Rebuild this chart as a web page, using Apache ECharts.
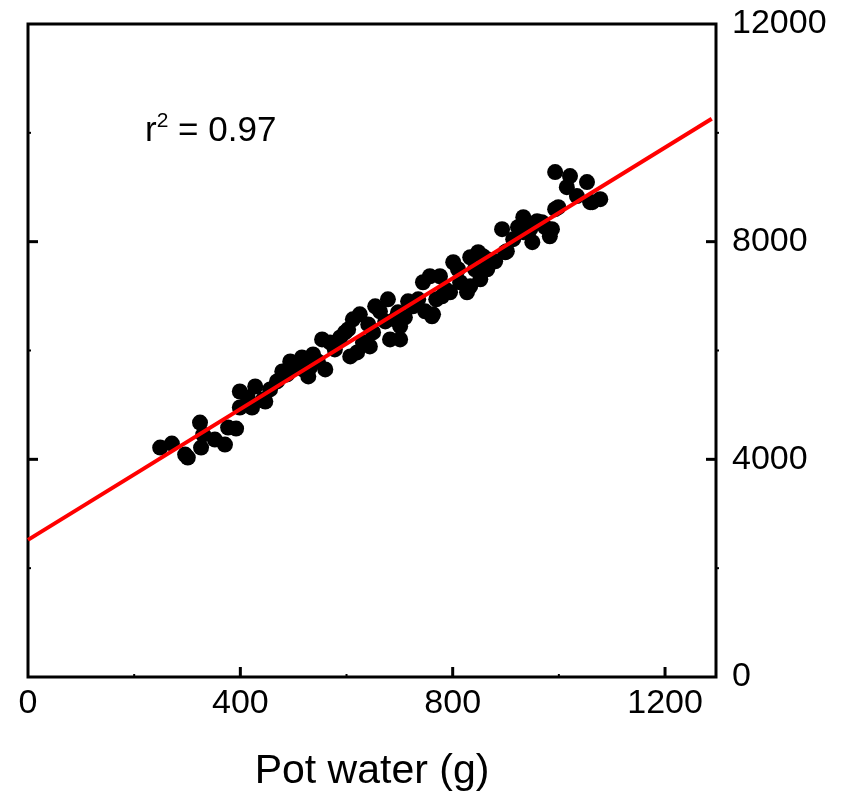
<!DOCTYPE html>
<html>
<head>
<meta charset="utf-8">
<script src="https://cdn.jsdelivr.net/npm/echarts@6/dist/echarts.min.js"></script>
<style>
  html, body { margin: 0; padding: 0; background: #fff; }
  #chart { width: 845px; height: 800px; }
</style>
</head>
<body>
<div id="chart"></div>
<script>
// Pot water (g) of each observation
const potWater = [
  249, 271, 296, 301, 324, 330, 326, 371, 377, 392, 399, 428, 399, 422, 447, 443,
  469, 494, 516, 537, 554, 560, 528, 488, 597, 607, 625, 631, 654, 612, 663, 678,
  697, 701, 725, 761, 744, 757, 776, 780, 801, 814, 827, 833, 848, 852, 865, 865,
  893, 899, 933, 933, 950, 959, 983, 999, 993, 1021, 1015, 1034, 1053, 1059, 1078, 1063,
  682, 650, 701, 620, 644, 795, 833, 902, 968, 857, 763, 725, 987, 993,
  503, 479, 546, 578, 588, 569, 456, 414, 641, 673, 710, 735, 748, 786, 810, 880,
  914, 946, 974, 531, 603, 691, 769, 842, 923, 352, 518, 716
];

// Plant weight of each observation (same order)
const plantWeight = [
  4216, 4290, 4087, 4032, 4676, 4455, 4216, 4271, 4584, 4566, 5247, 5339, 4952, 4952, 5063, 5100,
  5431, 5799, 5873, 5928, 6204, 5652, 5523, 5560, 6333, 5891, 6664, 6149, 6812, 6572, 6720, 6941,
  6701, 6444, 6849, 6628, 7254, 7364, 7364, 6996, 7622, 7254, 7070, 7714, 7806, 7309, 7677, 7493,
  8229, 7806, 8450, 8174, 7990, 8377, 8100, 8634, 9279, 9205, 9002, 8837, 9095, 8726, 8781, 8726,
  6204, 6333, 6204, 5965, 6075, 7070, 7180, 7824, 8358, 7732, 6665, 6812, 8229, 8597,
  5689, 5615, 5799, 6020, 6241, 6149, 5284, 5136, 6480, 6535, 6609, 6941, 6720, 7125, 7493, 7640,
  8045, 8229, 8266, 5689, 6388, 6572, 6941, 7493, 8266, 4363, 5652, 6904
];

// Regression line ends
const fitX = [0, 1288];
const fitY = [2520, 10260];

// tick values
const xTicks = [0, 400, 800, 1200];
const yTicks = [0, 4000, 8000, 12000];
const xMajor = [400, 800, 1200];
const xMinor = [200, 600, 1000];
const yMajor = [4000, 8000];
const yMinor = [2000, 6000, 10000];

const font = 'Liberation Sans, Arial, sans-serif';
const X_MAX = 1296;
const Y_MAX = 12000;

const scatterData = potWater.map((x, i) => [x, plantWeight[i]]);
const fitData = fitX.map((x, i) => [x, fitY[i]]);

const chart = echarts.init(document.getElementById('chart'));

/**
 * Custom series drawing tick marks (small filled rects) on one edge of the plot.
 *
 * @param {Array} values Tick values
 * @param {String} edge 'bottom', 'left' or 'right'
 * @param {Number} len Length in px, positive points into the plot
 * @param {Number} width Thickness in px
 */
const tickSeries = (values, edge, len, width) => ({
  type: 'custom',
  clip: false,
  silent: true,
  z: 10,
  data: values.map(v => (edge === 'bottom' ? [v, 0] : [edge === 'left' ? 0 : X_MAX, v])),
  renderItem: (params, api) => {
    const p = api.coord([api.value(0), api.value(1)]);
    let shape;
    if (edge === 'bottom') {
      shape = { x: p[0] - width / 2, y: p[1] - len, width, height: len };
    } else if (edge === 'left') {
      shape = { x: p[0], y: p[1] - width / 2, width: len, height: width };
    } else if (len > 0) {
      shape = { x: p[0] - len, y: p[1] - width / 2, width: len, height: width };
    } else {
      shape = { x: p[0], y: p[1] - width / 2, width: -len, height: width };
    }
    return { type: 'rect', shape, style: { fill: '#000' } };
  }
});

chart.setOption({
  animation: false,
  backgroundColor: '#fff',
  title: {
    left: 140,
    top: 106,
    text: '{r|r}{sup|2}{r| = 0.97}',
    textStyle: {
      rich: {
        r: { fontSize: 35, fontFamily: font, fontWeight: 'normal', color: '#000', lineHeight: 40 },
        sup: { fontSize: 21, fontFamily: font, fontWeight: 'normal', color: '#000', lineHeight: 20, verticalAlign: 'top' }
      }
    }
  },
  // frame of the plot
  grid: {
    left: 28, right: 129, top: 24, bottom: 123,
    show: true, borderColor: '#000', borderWidth: 3, backgroundColor: 'transparent'
  },
  xAxis: {
    type: 'value',
    position: 'bottom',
    min: 0,
    max: X_MAX,
    interval: 400,
    name: 'Pot water (g)',
    nameLocation: 'middle',
    nameGap: 74,
    nameTextStyle: { fontSize: 41, fontFamily: font, color: '#000' },
    axisLine: { show: false, onZero: false },
    axisTick: { show: false },
    splitLine: { show: false },
    axisLabel: {
      fontSize: 34, fontFamily: font, color: '#000', margin: 10,
      formatter: v => (xTicks.includes(v) ? String(v) : '')
    }
  },
  yAxis: {
    type: 'value',
    position: 'right',
    min: 0,
    max: Y_MAX,
    interval: 4000,
    axisLine: { show: false, onZero: false },
    axisTick: { show: false },
    splitLine: { show: false },
    axisLabel: {
      fontSize: 34, fontFamily: font, color: '#000', margin: 16,
      formatter: v => (yTicks.includes(v) ? String(v) : '')
    }
  },
  series: [
    {
      type: 'scatter',
      data: scatterData,
      symbol: 'circle',
      symbolSize: 16,
      itemStyle: { color: '#000', opacity: 1 }
    },
    {
      type: 'line',
      data: fitData,
      symbol: 'none',
      lineStyle: { color: '#ff0000', width: 4 },
      z: 5
    },
    tickSeries(xMajor, 'bottom', 10, 3),
    tickSeries(xMinor, 'bottom', 3, 2),
    tickSeries(yMajor, 'left', 10, 3),
    tickSeries(yMinor, 'left', 3, 2),
    tickSeries(yMajor, 'right', 10, 3),
    tickSeries(yMinor, 'right', -3, 2)
  ]
});
</script>
</body>
</html>
